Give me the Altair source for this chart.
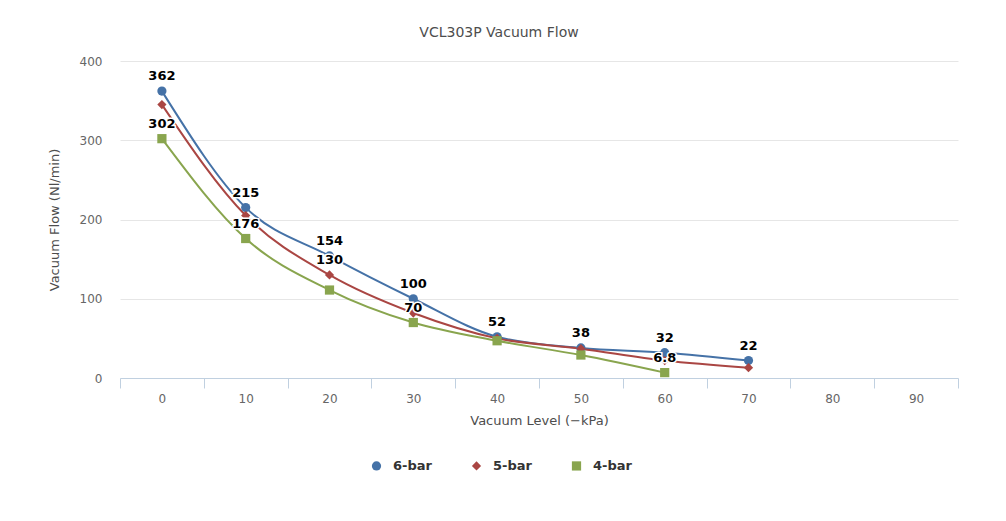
import altair as alt
import pandas as pd

# ---- data ----
categories = [0, 10, 20, 30, 40, 50, 60, 70, 80, 90]
series_names = ["6-bar", "5-bar", "4-bar"]
levels_6 = [0, 10, 20, 30, 40, 50, 60, 70]
flow_6 = [362, 215, 154, 100, 52, 38, 32, 22]
labels_6 = ["362", "215", "154", "100", "52", "38", "32", "22"]
levels_5 = [0, 10, 20, 30, 40, 50, 60, 70]
flow_5 = [345, 205, 130, 82, 50, 37, 22, 13]
labels_5 = ["", "", "130", "", "", "", "", ""]
levels_4 = [0, 10, 20, 30, 40, 50, 60]
flow_4 = [302, 176, 111, 70, 47, 29, 6.8]
labels_4 = ["302", "176", "", "70", "", "", "6.8"]

colors = ["#4572A7", "#AA4643", "#89A54E"]
marker_shapes = ["circle", "diamond", "square"]

rows = []
for name, lv, fl, lb in [("6-bar", levels_6, flow_6, labels_6),
                         ("5-bar", levels_5, flow_5, labels_5),
                         ("4-bar", levels_4, flow_4, labels_4)]:
    for l, f, t in zip(lv, fl, lb):
        rows.append({"level": l, "flow": f, "series": name, "label": t})
df = pd.DataFrame(rows)

FONT = "DejaVu Sans"

x = alt.X("level:O",
          scale=alt.Scale(type="band", domain=categories, paddingInner=0, paddingOuter=0),
          axis=alt.Axis(title="Vacuum Level (−kPa)", labelAngle=0, tickBand="extent",
                        tickSize=10, tickColor="#C0D0E0", domainColor="#C0D0E0",
                        grid=False, labelColor="#666666", labelFontSize=12,
                        labelPadding=5, titleColor="#4d4d4d", titleFontSize=13,
                        titleFontWeight="normal", titlePadding=10, labelFont=FONT,
                        titleFont=FONT))
y = alt.Y("flow:Q",
          scale=alt.Scale(domain=[0, 400], nice=False),
          axis=alt.Axis(title="Vacuum Flow (Nl/min)", values=[0, 100, 200, 300, 400],
                        domain=False, ticks=False, gridColor="#e6e6e6",
                        labelColor="#666666", labelFontSize=12, labelPadding=18,
                        titleColor="#4d4d4d", titleFontSize=13, titleFontWeight="normal",
                        titlePadding=18, labelFont=FONT, titleFont=FONT))

color_scale = alt.Scale(domain=series_names, range=colors)
shape_scale = alt.Scale(domain=series_names, range=marker_shapes)

base = alt.Chart(df)

lines = base.mark_line(strokeWidth=2, interpolate="monotone").encode(
    x=x, y=y,
    color=alt.Color("series:N", scale=color_scale, legend=None),
    detail="series:N",
)

points = base.mark_point(filled=True, opacity=1, size=85).encode(
    x=x, y=y,
    color=alt.Color("series:N", scale=color_scale, legend=alt.Legend(title=None)),
    shape=alt.Shape("series:N", scale=shape_scale, legend=alt.Legend(title=None)),
)

halo = base.mark_text(font=FONT, fontSize=13, fontWeight="bold", dy=-8, baseline="bottom",
                      stroke="white", strokeWidth=3, fill="white").encode(
    x=x, y=y, text="label:N")
labels = base.mark_text(font=FONT, fontSize=13, fontWeight="bold", dy=-8, baseline="bottom",
                        color="#000000").encode(
    x=x, y=y, text="label:N")

chart = alt.layer(lines, points, halo, labels).resolve_legend(
    color="independent", shape="independent"
).properties(
    width=838, height=317,
    title=alt.TitleParams("VCL303P Vacuum Flow", font=FONT, fontSize=14,
                          fontWeight="normal", color="#4d4d4d", anchor="middle",
                          dx=-40, offset=15),
    autosize=alt.AutoSizeParams(type="none"),
    padding={"left": 112, "top": 53, "right": 40, "bottom": 130},
).configure_view(stroke=None).configure_legend(
    orient="none", legendX=250, legendY=398, direction="horizontal",
    symbolSize=85, symbolOpacity=1,
    labelFont=FONT, labelFontSize=13, labelFontWeight="bold", labelColor="#333333",
    columnPadding=36, labelOffset=10,
)

chart.save("out.html", embed_options={"renderer": "svg", "actions": False})
